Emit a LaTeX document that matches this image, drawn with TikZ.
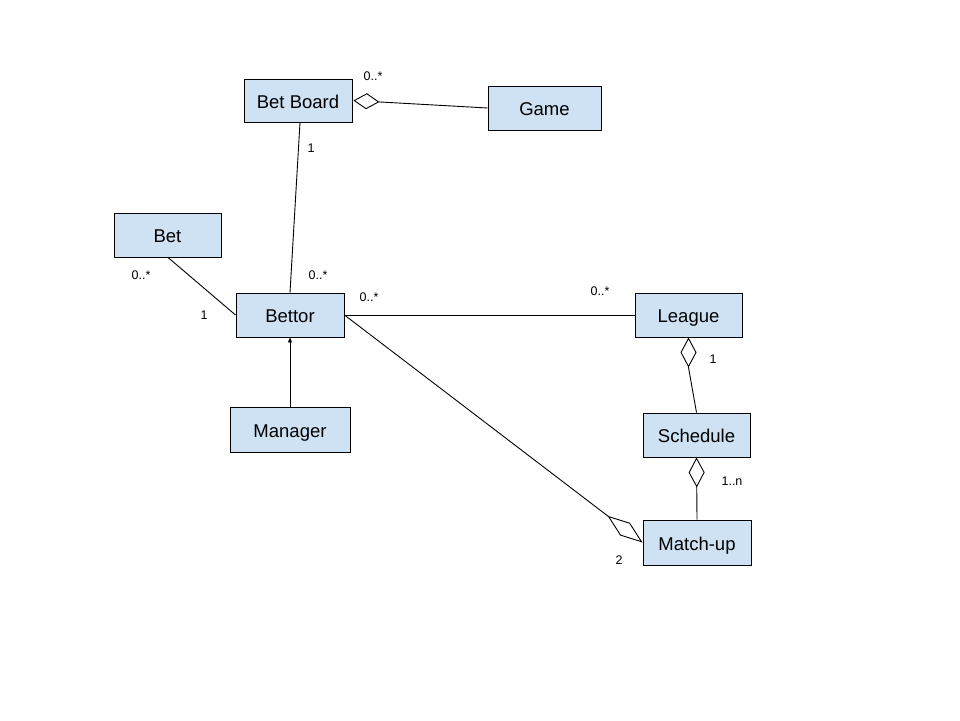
\documentclass[tikz,border=0pt]{standalone}
\usepackage{fontspec}
\setmainfont{Liberation Sans}
\usetikzlibrary{arrows.meta,calc}
\definecolor{boxfill}{HTML}{CFE2F3}
\tikzset{
  cls/.style={draw=black, line width=0.9pt, fill=boxfill, minimum height=44pt,
              inner sep=0pt, text height=15pt, text depth=0pt,
              font=\fontsize{18.5}{21}\selectfont},
  mult/.style={font=\fontsize{12.5}{14}\selectfont, inner sep=0pt},
  assoc/.style={draw=black, line width=0.9pt},
  agg/.style={assoc, -{Diamond[open, length=#1, width=16pt, line width=0.9pt]}},
  agg/.default=26pt,
  gen/.style={assoc, -{Triangle[length=5pt, width=4pt]}}
}
\begin{document}
\begin{tikzpicture}[x=1pt, y=-1pt]
  \useasboundingbox (0,0) rectangle (960,720);
  \fill[white] (0,0) rectangle (960,720);

  % classes
  \node[cls, minimum width=108pt, minimum height=43pt] (betboard) at (298,100.5) {Bet Board};
  \node[cls, minimum width=113pt] (game) at (544.5,108) {Game};
  \node[cls, minimum width=107pt] (bet) at (167.5,235) {Bet};
  \node[cls, minimum width=108pt] (bettor) at (290,315) {Bettor};
  \node[cls, minimum width=120pt, minimum height=45pt] (manager) at (290,429.5) {Manager};
  \node[cls, minimum width=107pt] (league) at (688.5,315) {League};
  \node[cls, minimum width=107pt] (schedule) at (696.5,435) {Schedule};
  \node[cls, minimum width=108pt, minimum height=45pt] (matchup) at (697,542.5) {Match-up};

  % associations and aggregations
  \draw[agg] (game.west) -- ($(betboard.east)+(1,0)$);
  \draw[assoc] ($(betboard.south)+(2,0)$) -- (bettor.north);
  \draw[assoc] ($(bet.south)+(0.5,0)$) -- (bettor.west);
  \draw[assoc] (bettor.east) -- (league.west);
  \draw[agg=44pt] (bettor.east) -- (matchup.west);
  \coordinate (legbend) at ($(league.south)+(0,30)$);
  \draw[agg=30pt] (schedule.north) -- (legbend) -- (league.south);
  \draw[agg=30pt] (matchup.north) -- (schedule.south);
  \draw[gen] (manager.north) -- (bettor.south);

  % multiplicities
  \node[mult] (m1) at (373,76) {0..*};
  \node[mult] (m2) at (311,148) {1};
  \node[mult] (m3) at (141,275) {0..*};
  \node[mult] (m4) at (204,315) {1};
  \node[mult] (m5) at (318,275) {0..*};
  \node[mult] (m6) at (369,297) {0..*};
  \node[mult] (m7) at (600,291) {0..*};
  \node[mult] (m8) at (713,359) {1};
  \node[mult] (m9) at (732,481) {1..n};
  \node[mult] (m10) at (619,560) {2};
\end{tikzpicture}
\end{document}
